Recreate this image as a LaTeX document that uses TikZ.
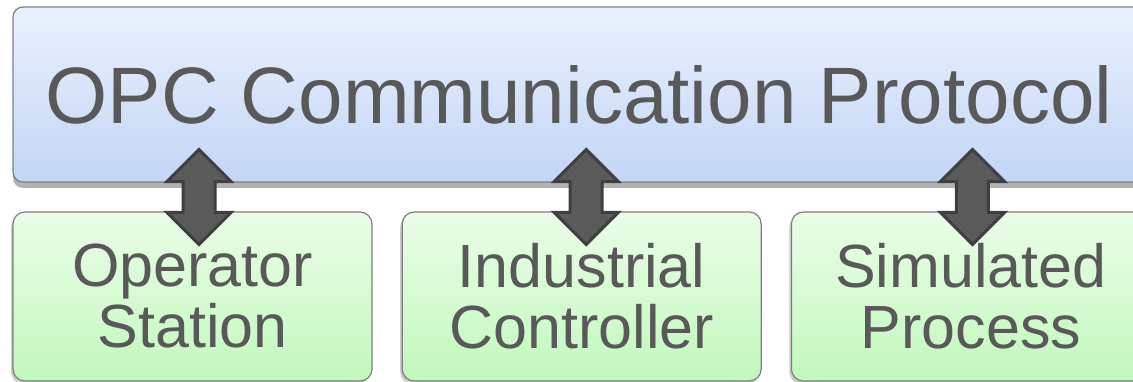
\documentclass[tikz,border=0pt]{standalone}
\usepackage{fontspec}
\setmainfont{Liberation Sans}
\usepackage{xcolor}
\usetikzlibrary{shapes.arrows,shadows,calc,positioning}

\definecolor{labelgray}{HTML}{595959}
\definecolor{edgegray}{HTML}{7F7F7F}
\definecolor{busTop}{HTML}{EAF1FD}
\definecolor{busBottom}{HTML}{C3D6F5}
\definecolor{unitTop}{HTML}{EAFDE7}
\definecolor{unitBottom}{HTML}{C2F8BD}
\definecolor{linkFill}{HTML}{5A5A5A}
\definecolor{linkEdge}{HTML}{3F3F3F}

\begin{document}
\begin{tikzpicture}[x=1pt, y=-1pt,
    bus/.style={rectangle, draw=edgegray, line width=1.2pt, rounded corners=10pt,
        top color=busTop, bottom color=busBottom, text=labelgray, inner sep=0pt,
        drop shadow={shadow xshift=0pt, shadow yshift=-6pt, opacity=0.3, fill=black},
        font=\fontsize{80}{80}\selectfont},
    unit/.style={rectangle, draw=edgegray, line width=1.2pt, rounded corners=12pt,
        top color=unitTop, bottom color=unitBottom, text=labelgray, inner sep=0pt,
        minimum width=359pt, minimum height=169pt, align=center,
        drop shadow={shadow xshift=-2pt, shadow yshift=-3pt, opacity=0.2, fill=black},
        font=\fontsize{61}{61}\selectfont},
    link/.style={double arrow, rotate=90, draw=linkEdge, fill=linkFill, line width=3pt,
        double arrow tip angle=90, double arrow head extend=16pt,
        minimum height=95pt, inner xsep=0pt, inner ysep=14.5pt}]

    \useasboundingbox (0,0) rectangle (1133,382);
    \clip (0,0) rectangle (1133,382);

    % protocol bar on top
    \node[bus, minimum width=1132pt, minimum height=175pt] (opc) at (579,94.5) {OPC Communication Protocol};

    % the three units below it
    \node[unit] (operator) at (192.5,296.5) {Operator\\Station};
    \node[unit, right=29pt of operator] (controller) {Industrial\\Controller};
    \node[unit, right=29pt of controller] (process) {Simulated\\Process};

    % two-way links between the bar and each unit
    \node[link] (opclink) at ($(operator.north)!0.5!(operator.north |- opc.south)+(6.5,0)$) {};
    \node[link] (ctllink) at ($(controller.north)!0.5!(controller.north |- opc.south)+(4.5,0)$) {};
    \node[link] (prclink) at ($(process.north)!0.5!(process.north |- opc.south)+(1.5,0)$) {};

\end{tikzpicture}
\end{document}
